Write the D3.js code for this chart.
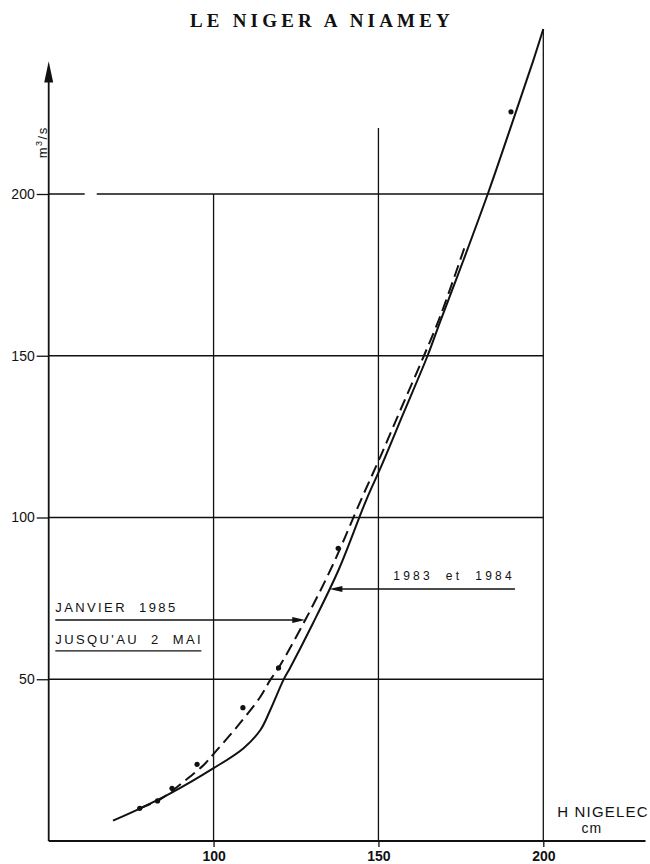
<!DOCTYPE html>
<html>
<head>
<meta charset="utf-8">
<script src="https://cdn.jsdelivr.net/npm/d3@7"></script>
<style>
  body { margin: 0; background: #fff; }
  text { font-family: "Liberation Sans", Arial, sans-serif; fill: #111; }
</style>
</head>
<body>
<svg id="chart" width="650" height="864"></svg>
<script>
// Courbe de tarage du Niger à Niamey : hauteur (cm) -> débit (m3/s)
const titleText = "LE NIGER A NIAMEY";
const xTickValues = [100, 150, 200];
const yTickValues = [50, 100, 150, 200];

// Courbe 1983 et 1984 (trait plein)
const solidH = [69.5, 77.8, 86.9, 100, 109.1, 114.2, 117.2, 121.2, 123.2, 130, 138, 146.3, 150.8, 157.5, 164.9, 168.7, 175.8, 183.4, 191.7, 197, 200];
const solidQ = [6.3, 10.1, 14.7, 22.5, 28.7, 34.3, 40.5, 49.8, 53.5, 67, 84, 105.4, 115.7, 132, 150, 160.5, 179.6, 200.7, 225.4, 241.4, 251];

// Courbe janvier 1985 jusqu'au 2 mai (tirets)
const dashedH = [77.6, 83.85, 90.9, 97, 101, 107.1, 114.2, 117.2, 119.7, 127.8, 136, 144.7, 150.8, 157, 163.8, 168.7, 176.6];
const dashedQ = [10.1, 12.9, 18.3, 23.5, 28.1, 35.3, 44.6, 49.8, 53.5, 68.3, 85, 105.4, 119.3, 134, 150, 162.1, 184.9];

// Jaugeages
const gaugeH = [77.6, 83.0, 87.4, 95.0, 108.9, 119.7, 137.8, 190.2];
const gaugeQ = [10.1, 12.4, 16.3, 23.7, 41.2, 53.5, 90.5, 225.4];

const svg = d3.select("#chart");

const x = d3.scaleLinear().domain([50, 200]).range([48.7, 543.3]);
const y = d3.scaleLinear().domain([0, 200]).range([841, 194]);

// Titre
svg.append("text")
  .attr("x", 322).attr("y", 27)
  .attr("text-anchor", "middle")
  .style("font-family", "'Liberation Serif', 'DejaVu Serif', serif")
  .style("font-size", "19px")
  .style("font-weight", "bold")
  .style("letter-spacing", "4.2px")
  .text(titleText);

// Quadrillage horizontal
const grid = svg.append("g").attr("stroke", "#111").attr("stroke-width", 1.3).attr("fill", "none");
yTickValues.forEach(v => {
  const ln = grid.append("line")
    .attr("x1", x(50)).attr("x2", x(200))
    .attr("y1", y(v)).attr("y2", y(v));
  if (v === 200) ln.attr("stroke-dasharray", "36,12,1000");
});
// Quadrillage vertical
const vTop = { 100: 200, 150: 220.4, 200: 251 };
xTickValues.forEach(v => {
  grid.append("line")
    .attr("x1", x(v)).attr("x2", x(v))
    .attr("y1", y(0)).attr("y2", y(vTop[v]));
});

// Axe des débits
const yAxis = d3.axisLeft(y).tickValues(yTickValues).tickSize(12).tickPadding(2).tickFormat(d3.format("d"));
const gy = svg.append("g").attr("transform", `translate(${x(50)},0)`).call(yAxis);
gy.select(".domain").remove();
gy.selectAll(".tick line").attr("stroke", "#111").attr("stroke-width", 1.3);
gy.selectAll(".tick text").style("font-size", "14px").style("font-family", "'Liberation Sans', Arial, sans-serif").attr("fill", "#111");

svg.append("line")
  .attr("x1", x(50)).attr("x2", x(50))
  .attr("y1", y(0)).attr("y2", y(238))
  .attr("stroke", "#111").attr("stroke-width", 1.8);
svg.append("path")
  .attr("d", `M${x(50)},${y(241)} L${x(50) - 4.5},${y(234.5)} L${x(50) + 4.5},${y(234.5)} Z`)
  .attr("fill", "#111");

svg.append("text")
  .attr("transform", `translate(${x(50) - 2},${y(216)}) rotate(-90)`)
  .attr("text-anchor", "middle")
  .style("font-size", "13px")
  .style("letter-spacing", "1.5px")
  .html("m<tspan dy='-5' font-size='9px'>3</tspan><tspan dy='5'>/s</tspan>");

// Axe des hauteurs
const xAxis = d3.axisBottom(x).tickValues(xTickValues).tickSize(6).tickPadding(4).tickFormat(d3.format("d"));
const gx = svg.append("g").attr("transform", `translate(0,${y(0)})`).call(xAxis);
gx.select(".domain").remove();
gx.selectAll(".tick line").attr("stroke", "#111").attr("stroke-width", 1.3);
gx.selectAll(".tick text").style("font-size", "14px").style("font-weight", "bold").style("font-family", "'Liberation Sans', Arial, sans-serif").attr("fill", "#111");

svg.append("line")
  .attr("x1", x(50)).attr("x2", x(231))
  .attr("y1", y(0)).attr("y2", y(0))
  .attr("stroke", "#111").attr("stroke-width", 1.8);

svg.append("text").attr("x", x(204.2)).attr("y", y(7.5))
  .style("font-size", "15px").style("letter-spacing", "1.2px").text("H NIGELEC");
svg.append("text").attr("x", x(211.6)).attr("y", y(2.5))
  .style("font-size", "14px").style("letter-spacing", "1px").text("cm");

// Courbes
const line = d3.line().x(d => x(d[0])).y(d => y(d[1])).curve(d3.curveCatmullRom.alpha(0.5));
const solidPts = solidH.map((h, i) => [h, solidQ[i]]);
const dashedPts = dashedH.map((h, i) => [h, dashedQ[i]]);

svg.append("path").datum(solidPts).attr("d", line)
  .attr("fill", "none").attr("stroke", "#111").attr("stroke-width", 2);
svg.append("path").datum(dashedPts).attr("d", line)
  .attr("fill", "none").attr("stroke", "#111").attr("stroke-width", 2)
  .attr("stroke-dasharray", "12,6");

svg.append("g").selectAll("circle").data(gaugeH.map((h, i) => [h, gaugeQ[i]]))
  .join("circle")
  .attr("cx", d => x(d[0])).attr("cy", d => y(d[1])).attr("r", 2.6)
  .attr("fill", "#111");

// Hauteur sur une courbe pour un débit donné
function hAt(pts, q) {
  for (let i = 1; i < pts.length; i++) {
    if (pts[i][1] >= q) {
      const [h0, q0] = pts[i - 1], [h1, q1] = pts[i];
      return h0 + (q - q0) / (q1 - q0) * (h1 - h0);
    }
  }
  return pts[pts.length - 1][0];
}

function arrow(x1, x2, yy) {
  const dir = Math.sign(x2 - x1);
  svg.append("line").attr("x1", x1).attr("x2", x2 - dir * 10).attr("y1", yy).attr("y2", yy)
    .attr("stroke", "#111").attr("stroke-width", 1.4);
  svg.append("path")
    .attr("d", `M${x2},${yy} L${x2 - dir * 13},${yy - 3} L${x2 - dir * 13},${yy + 3} Z`)
    .attr("fill", "#111");
}

// Légendes
const janQ = 68.3;
svg.append("text").attr("x", x(52)).attr("y", y(70.7))
  .style("font-size", "13px").style("letter-spacing", "2.4px").style("white-space", "pre")
  .text("JANVIER  1985");
arrow(x(52), x(hAt(dashedPts, janQ)), y(janQ));

svg.append("text").attr("x", x(52)).attr("y", y(60.8))
  .style("font-size", "13px").style("letter-spacing", "2.4px").style("white-space", "pre")
  .text("JUSQU'AU  2  MAI");
svg.append("line").attr("x1", x(52)).attr("x2", x(96.3)).attr("y1", y(58.8)).attr("y2", y(58.8))
  .attr("stroke", "#111").attr("stroke-width", 1.3);

const oldQ = 77.9;
svg.append("text").attr("x", x(154.5)).attr("y", y(80.6))
  .style("font-size", "12px").style("letter-spacing", "3.2px").style("white-space", "pre")
  .text("1983  et  1984");
arrow(x(191.4), x(hAt(solidPts, oldQ)), y(oldQ));
</script>
</body>
</html>
